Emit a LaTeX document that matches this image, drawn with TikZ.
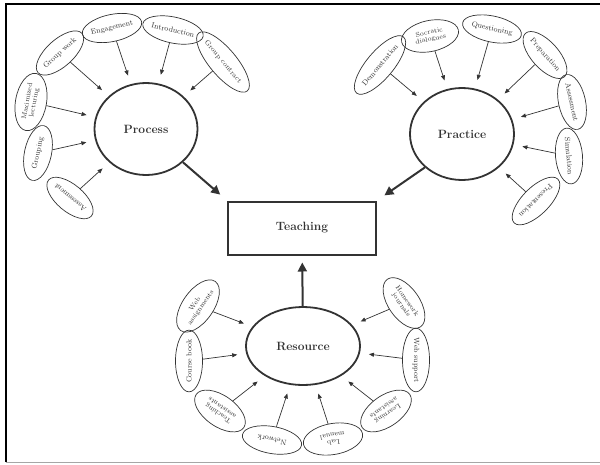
\documentclass[tikz,border=0pt]{standalone}
\usetikzlibrary{shapes.geometric,arrows.meta}
\definecolor{ink}{HTML}{333333}
\begin{document}
\begin{tikzpicture}[x=1pt,y=-1pt,
		big/.style={ellipse,draw=ink,line width=1.8pt,minimum width=103pt,minimum height=92pt,font=\fontsize{12}{14}\selectfont\bfseries,text=ink},
		sat/.style={ellipse,draw=ink,line width=0.7pt,minimum width=56pt,minimum height=27pt,inner sep=0pt,align=center,font=\fontsize{7.5}{7.5}\selectfont,text=ink},
		sattwo/.style={sat,minimum width=58pt,minimum height=31pt,font=\fontsize{6.8}{7}\selectfont},
		feed/.style={draw=ink,line width=0.7pt,-{Triangle[length=5pt,width=4pt]},shorten >=9pt},
		main/.style={draw=ink,line width=2pt,-{Triangle[length=9pt,width=9pt]}}]
	\useasboundingbox (0,0) rectangle (600,464);
	\draw[line width=2.5pt] (6,462) -- (6,4) -- (600,4);
	\draw[black!35,line width=0.8pt] (6,462) -- (600,462);

	\node[draw=ink,line width=2pt,minimum width=148pt,minimum height=53pt,font=\fontsize{12}{14}\selectfont\bfseries,text=ink] (teach) at (302,228) {Teaching};

	\node[big] (proc) at (146,129) {Process};
	\node[big,minimum width=104pt] (prac) at (462,134) {Practice};
	\node[big,minimum width=114pt,minimum height=78pt] (res) at (303,346) {Resource};

	\node[sat,rotate=140] (pasm) at (70,198) {Assessment};
	\node[sat,rotate=78] (pgrp) at (38,153) {Grouping};
	\node[sattwo,rotate=80] (pmax) at (31,102) {Maximized\\lecturing};
	\node[sat,rotate=42] (pgw) at (60,53) {Group work};
	\node[sat,rotate=12,minimum width=52pt] (peng) at (112,28) {Engagement};
	\node[sat,rotate=-12,minimum width=60pt,minimum height=26pt] (pint) at (173,30) {Introduction};
	\node[sat,rotate=-50,minimum width=60pt,font=\fontsize{7}{7}\selectfont] (pgc) at (223,62) {Group contract};

	\node[sat,rotate=50,minimum width=60pt] (rdem) at (380,65) {Demonstration};
	\node[sattwo,rotate=12] (rsoc) at (430,36) {Socratic\\dialogues};
	\node[sat,rotate=-12,minimum width=60pt,minimum height=26pt] (rque) at (492,29) {Questioning};
	\node[sat,rotate=-48] (rpre) at (545,55) {Preparation};
	\node[sat,rotate=-78] (rasm) at (572,102) {Assessment};
	\node[sat,rotate=-85] (rsim) at (569,156) {Simulation};
	\node[sat,rotate=-135,minimum width=60pt] (rpres) at (536,201) {Presentation};

	\node[sattwo,rotate=55,minimum width=60pt] (swa) at (198,306) {Web\\assignments};
	\node[sat,rotate=90] (scb) at (189,361) {Course book};
	\node[sattwo,rotate=145] (sta) at (220,411) {Teaching\\assistants};
	\node[sat,rotate=170,minimum width=60pt] (snet) at (272,440) {Network};
	\node[sattwo,rotate=-170,minimum width=60pt] (slab) at (333,439) {Lab\\manual};
	\node[sattwo,rotate=-145] (sla) at (386,411) {Learning\\assistants};
	\node[sat,rotate=-90] (sws) at (416,360) {Web support};
	\node[sattwo,rotate=-55] (shj) at (404,303) {Homework\\journals};

	\foreach \s in {pasm,pgrp,pmax,pgw,peng,pint,pgc}
		\draw[feed] (\s) -- (proc);
	\foreach \s in {rdem,rsoc,rque,rpre,rasm,rsim,rpres}
		\draw[feed] (\s) -- (prac);
	\foreach \s in {swa,scb,sta,snet,slab,sla,sws,shj}
		\draw[feed] (\s) -- (res);

	\draw[main,shorten >=9pt] (proc.-42) -- (teach.north west);
	\draw[main,shorten >=9pt] (prac.-138) -- (teach.north east);
	\draw[main,shorten >=7pt] (res) -- (teach);
\end{tikzpicture}
\end{document}
